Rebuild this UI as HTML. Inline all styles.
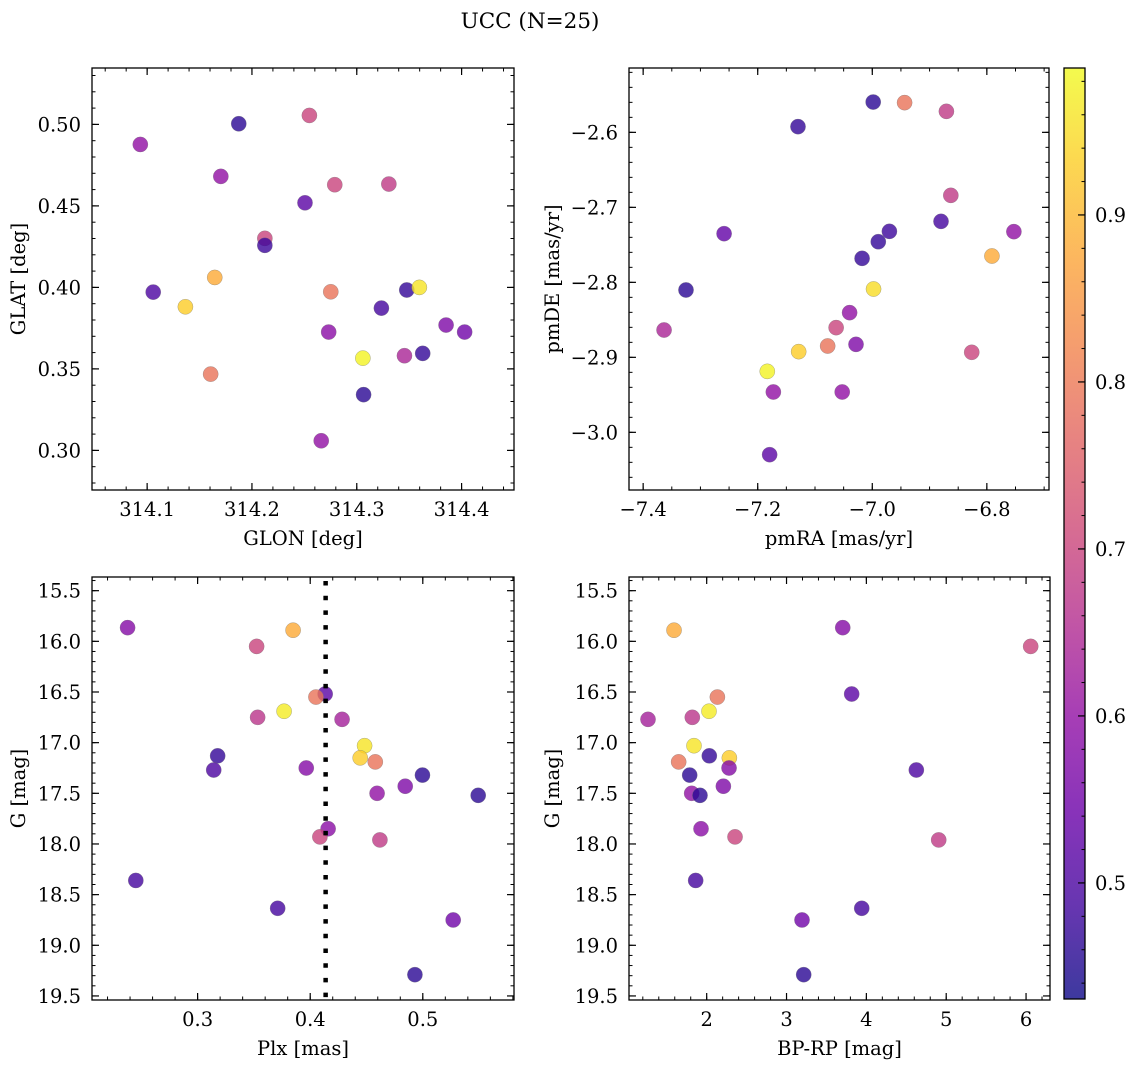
<!DOCTYPE html>
<html><head><meta charset="utf-8"><style>
body{margin:0;background:#fff;}
svg{display:block;font-family:"DejaVu Serif","Liberation Serif",serif;}
</style></head><body>
<svg id="fig" width="1136" height="1067" viewBox="0 0 1136 1067" xmlns="http://www.w3.org/2000/svg">
<rect width="1136" height="1067" fill="#fff"/>
<text x="530" y="28" font-size="21.5" text-anchor="middle">UCC (N=25)</text>
</svg>
<script>
// ---- Panel 1 data (GLON / GLAT)
const glon = [314.0935,314.1874,314.1703,314.2548,314.2506,314.279,314.3306,314.2123,314.2123,314.1645,314.1058,314.1365,314.2752,314.3477,314.3597,314.3235,314.2732,314.3852,314.4029,314.3058,314.3455,314.3629,314.1606,314.3065,314.2661];
const glat = [0.4877,0.5004,0.4681,0.5055,0.4519,0.463,0.4634,0.4301,0.4258,0.4061,0.3971,0.3881,0.3973,0.3984,0.4,0.3873,0.3726,0.3769,0.3726,0.3566,0.3581,0.3595,0.3468,0.3342,0.3059];
const cPos = [0.60,0.46,0.60,0.70,0.52,0.70,0.68,0.70,0.48,0.88,0.50,0.93,0.79,0.47,0.96,0.49,0.59,0.57,0.55,0.98,0.64,0.47,0.79,0.46,0.60];
// ---- Panel 2 data (pmRA / pmDE)
const pmra = [-6.9984,-6.9436,-6.8706,-7.1297,-6.8629,-6.88,-6.7528,-7.2587,-6.9701,-6.9895,-7.0178,-6.7911,-7.3252,-6.9978,-7.0396,-7.3635,-7.0631,-7.0779,-7.0284,-7.1285,-6.8264,-7.1833,-7.1727,-7.0525,-7.1792];
const pmde = [-2.5596,-2.5604,-2.572,-2.5924,-2.684,-2.7187,-2.7324,-2.7351,-2.732,-2.7458,-2.768,-2.7649,-2.8102,-2.8089,-2.8404,-2.8636,-2.8604,-2.8849,-2.8827,-2.8924,-2.8933,-2.9187,-2.9462,-2.9462,-3.0298];
const cPm = [0.46,0.79,0.68,0.47,0.68,0.49,0.60,0.53,0.48,0.47,0.47,0.88,0.46,0.95,0.60,0.64,0.70,0.79,0.57,0.93,0.70,0.98,0.60,0.60,0.52];
// ---- Panels 3/4 data (Plx, BP-RP, G)
const plx = [0.2378,0.3848,0.3524,0.4133,0.4051,0.3768,0.3533,0.4283,0.4483,0.4444,0.4578,0.3178,0.3143,0.3965,0.4997,0.4844,0.4594,0.5492,0.4159,0.4086,0.4619,0.2451,0.3711,0.5270,0.4930];
const bprp = [3.704,1.591,6.058,3.816,2.134,2.029,1.82,1.265,1.841,2.284,1.649,2.033,4.626,2.28,1.787,2.209,1.812,1.916,1.929,2.355,4.906,1.862,3.942,3.194,3.215];
const gmag = [15.865,15.89,16.05,16.52,16.55,16.69,16.75,16.77,17.03,17.15,17.19,17.13,17.27,17.25,17.32,17.43,17.5,17.52,17.85,17.93,17.96,18.36,18.635,18.75,19.29];
const cG = [0.58,0.88,0.70,0.52,0.79,0.97,0.67,0.63,0.96,0.93,0.79,0.47,0.50,0.58,0.46,0.57,0.60,0.46,0.59,0.70,0.68,0.49,0.49,0.55,0.46];
const plxLine = [0.4137];
// ---- tick labels
const ticksGlon = [314.1,314.2,314.3,314.4];
const ticksGlat = [0.30,0.35,0.40,0.45,0.50];
const ticksPmra = [-7.4,-7.2,-7.0,-6.8];
const ticksPmde = [-3.0,-2.9,-2.8,-2.7,-2.6];
const ticksPlx = [0.3,0.4,0.5];
const ticksBprp = [2,3,4,5,6];
const ticksG = [15.5,16.0,16.5,17.0,17.5,18.0,18.5,19.0,19.5];
const ticksCbar = [0.5,0.6,0.7,0.8,0.9];
const CMIN = 0.4305, CMAX = 0.988;
const FS = 19.5;

const NS = "http://www.w3.org/2000/svg";
const svg = document.getElementById('fig');
function mk(tag, attrs, parent){ const e=document.createElementNS(NS,tag); for(const k in attrs) e.setAttribute(k,attrs[k]); (parent||svg).appendChild(e); return e; }
const stops=[[13,8,135],[65,4,157],[106,0,168],[143,13,164],[177,42,144],[204,71,120],[225,100,98],[242,132,75],[252,166,54],[252,206,37],[240,249,33]];
function plasma(c){ let t=(c-CMIN)/(CMAX-CMIN); t=Math.max(0,Math.min(1,t)); const f=t*10, i=Math.min(9,Math.floor(f)), r=f-i;
  const a=stops[i], b=stops[i+1]; return 'rgb('+[0,1,2].map(k=>Math.round(a[k]+(b[k]-a[k])*r)).join(',')+')'; }
function fmt(v,d){ return (v<0?'\u2212':'')+Math.abs(v).toFixed(d); }

function panel(o){
  const g=mk('g',{});
  
  
  const sx=v=>o.x0+(v-o.xmin)/(o.xmax-o.xmin)*(o.x1-o.x0);
  const sy=v=>o.inv ? o.y0+(v-o.ymin)/(o.ymax-o.ymin)*(o.y1-o.y0) : o.y1-(v-o.ymin)/(o.ymax-o.ymin)*(o.y1-o.y0);
  for(let v=Math.ceil(o.xmin/o.xminor)*o.xminor; v<=o.xmax+1e-9; v+=o.xminor){ const x=sx(v);
    mk('line',{x1:x,x2:x,y1:o.y1,y2:o.y1-3.5,stroke:'#000','stroke-width':1},g); mk('line',{x1:x,x2:x,y1:o.y0,y2:o.y0+3.5,stroke:'#000','stroke-width':1},g);}
  for(let v=Math.ceil(o.ymin/o.yminor)*o.yminor; v<=o.ymax+1e-9; v+=o.yminor){ const y=sy(v);
    mk('line',{x1:o.x0,x2:o.x0+3.5,y1:y,y2:y,stroke:'#000','stroke-width':1},g); mk('line',{x1:o.x1,x2:o.x1-3.5,y1:y,y2:y,stroke:'#000','stroke-width':1},g);}
  o.xt.forEach(v=>{ const x=sx(v);
    mk('line',{x1:x,x2:x,y1:o.y1,y2:o.y1-7,stroke:'#000','stroke-width':1.2},g); mk('line',{x1:x,x2:x,y1:o.y0,y2:o.y0+7,stroke:'#000','stroke-width':1.2},g);
    const t=mk('text',{x:x,y:o.y1+26,'font-size':FS,'text-anchor':'middle'},g); t.textContent=fmt(v,o.xd);
      });
  o.yt.forEach(v=>{ const y=sy(v);
    mk('line',{x1:o.x0,x2:o.x0+7,y1:y,y2:y,stroke:'#000','stroke-width':1.2},g); mk('line',{x1:o.x1,x2:o.x1-7,y1:y,y2:y,stroke:'#000','stroke-width':1.2},g);
    const t=mk('text',{x:o.x0-11,y:y+7,'font-size':FS,'text-anchor':'end'},g); t.textContent=fmt(v,o.yd);
      });
  for(let i=0;i<o.xs.length;i++){
    const c=mk('circle',{cx:sx(o.xs[i]),cy:sy(o.ys[i]),r:7.6,fill:plasma(o.cs[i]),'fill-opacity':0.8,stroke:'#777','stroke-width':0.5,'stroke-opacity':0.6},g);
    
    
  }
  if(o.vline){ o.vline.forEach(v=>{ const l=mk('line',{x1:sx(v),x2:sx(v),y1:o.y0+4,y2:o.y1,stroke:'#000','stroke-width':4.5,'stroke-dasharray':'4.5 10.2'},g);
      }); }
  mk('rect',{x:o.x0,y:o.y0,width:o.x1-o.x0,height:o.y1-o.y0,fill:'none',stroke:'#000','stroke-width':1.3},g);
  const xl=mk('text',{x:(o.x0+o.x1)/2,y:o.y1+55,'font-size':FS,'text-anchor':'middle'},g); xl.textContent=o.xlabel;
   
  const cy=(o.y0+o.y1)/2;
  const yl=mk('text',{x:o.ylx,y:cy,'font-size':FS,'text-anchor':'middle',transform:'rotate(-90 '+o.ylx+' '+cy+')'},g); yl.textContent=o.ylabel;
   
}

panel({name:'glon-glat-panel',x0:92,x1:514,y0:68,y1:490,xmin:314.0474,xmax:314.45,ymin:0.2757,ymax:0.5346,xminor:0.02,yminor:0.01,xt:ticksGlon,yt:ticksGlat,xd:1,yd:2,xs:glon,ys:glat,cs:cPos,xlabel:'GLON [deg]',ylabel:'GLAT [deg]',ylx:25});
panel({name:'pm-panel',x0:629,x1:1049,y0:68,y1:490,xmin:-7.4247,xmax:-6.6915,ymin:-3.0769,ymax:-2.5142,xminor:0.05,yminor:0.02,xt:ticksPmra,yt:ticksPmde,xd:1,yd:1,xs:pmra,ys:pmde,cs:cPm,xlabel:'pmRA [mas/yr]',ylabel:'pmDE [mas/yr]',ylx:559});
panel({name:'plx-g-panel',x0:92,x1:514,y0:577,y1:1000,xmin:0.2062,xmax:0.581,ymin:15.365,ymax:19.54,inv:true,xminor:0.02,yminor:0.1,xt:ticksPlx,yt:ticksG,xd:1,yd:1,xs:plx,ys:gmag,cs:cG,xlabel:'Plx [mas]',ylabel:'G [mag]',ylx:25,vline:plxLine});
panel({name:'cmd-panel',x0:629,x1:1050,y0:577,y1:1000,xmin:1.027,xmax:6.30,ymin:15.365,ymax:19.54,inv:true,xminor:0.2,yminor:0.1,xt:ticksBprp,yt:ticksG,xd:0,yd:1,xs:bprp,ys:gmag,cs:cG,xlabel:'BP-RP [mag]',ylabel:'G [mag]',ylx:559});

(function(){
  const x0=1064,x1=1085,y0=68,y1=999;
  const g=mk('g',{});
  
  
  const defs=mk('defs',{},g); const lg=mk('linearGradient',{id:'cg',x1:0,y1:1,x2:0,y2:0},defs);
  for(let i=0;i<=20;i++){ const c=CMIN+(CMAX-CMIN)*i/20; mk('stop',{offset:(i/20),'stop-color':plasma(c),'stop-opacity':0.8},lg); }
  mk('rect',{x:x0,y:y0,width:x1-x0,height:y1-y0,fill:'url(#cg)'},g);
  const sy=v=>y1-(v-CMIN)/(CMAX-CMIN)*(y1-y0);
  for(let v=0.44; v<=CMAX; v+=0.02){ const y=sy(v); mk('line',{x1:x1,x2:x1-3.5,y1:y,y2:y,stroke:'#000','stroke-width':1},g); }
  ticksCbar.forEach(v=>{ const y=sy(v); mk('line',{x1:x1,x2:x1-7,y1:y,y2:y,stroke:'#000','stroke-width':1.2},g);
    const t=mk('text',{x:x1+10,y:y+7,'font-size':FS},g); t.textContent=v.toFixed(1);
      });
  mk('rect',{x:x0,y:y0,width:x1-x0,height:y1-y0,fill:'none',stroke:'#000','stroke-width':1.3},g);
})();
</script>
</body></html>
